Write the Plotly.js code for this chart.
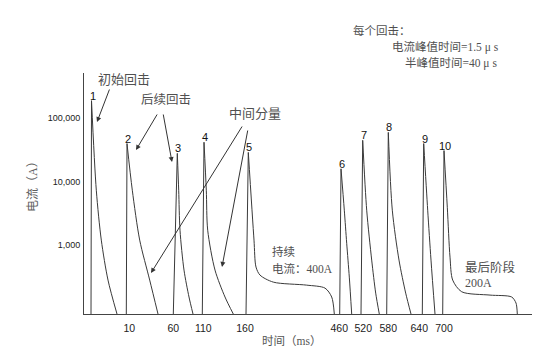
<!DOCTYPE html>
<html><head><meta charset="utf-8">
<script src="https://cdn.plot.ly/plotly-3.0.1.min.js"></script>
<style>html,body{margin:0;padding:0;background:#fff}#chart{width:553px;height:351px}</style>
</head><body><div id="chart"></div>
<script>
// ---- data (schematic time position along the drawn axis, current in A) ----
const BASE = 82;                       // current at the baseline of the sketch
const strokeNo = ['1','2','3','4','5','6','7','8','9','10'];
const riseStartPos = [7, 42.3, 89.3, 118.3, 162, 255.7, 277, 302.7, 338.3, 358.7];
const peakPos      = [7.5, 43, 93.3, 120, 164.3, 257, 278.7, 304.3, 339.7, 360];
const peakAmp      = [190000, 40000, 28000, 42000, 29000, 16000, 45000, 60000, 40000, 31000];
const tailPos = [
  [12.3, 17.3, 24, 33],
  [48.3, 55.7, 65.7, 74],
  [94.7, 96, 100, 105, 109],
  [122.3, 123.7, 131, 141, 149.3],
  [170, 172, 176, 189.3, 222.7, 241, 247.7, 250.3],
  [260.3, 262.7, 265.3, 267.7],
  [282.7, 287.7, 291.7, 295.3],
  [308.3, 315, 321.7, 327],
  [343.7, 347, 351],
  [363.3, 366, 368.7, 377.7, 406, 427.7, 432, 433.3]
];
const tailAmp = [
  [7350, 1200, 281, 82],
  [7350, 1200, 281, 82],
  [7350, 1720, 404, 152, 82],
  [7350, 1720, 404, 152, 82],
  [1200, 451, 337, 261, 234, 210, 152, 82],
  [3560, 1070, 313, 82],
  [3560, 581, 175, 82],
  [3560, 581, 175, 82],
  [3560, 581, 82],
  [3960, 647, 281, 184, 163, 152, 122, 82]
];
const timeLabels   = ['10','60','110','160','460','520','580','640','700'];
const timeLabelPos = [45.3, 89.3, 119.3, 161, 255.3, 279.3, 304.3, 335.3, 360];
const ampTickVals  = [1000, 10000, 100000];
const ampTickText  = ['1,000', '10,000', '100,000'];

// ---- layout helpers ----
const W = 553, H = 351, ML = 84, MR = 21, MT = 73, MB = 37;
const PW = W - ML - MR, PH = H - MT - MB;
const px = x => (x - ML) / PW;
const py = y => (H - MB - y) / PH;
const LINE = '#3a3a3a';
const TXT = '#505050';
const CJK = 'Noto Sans CJK SC';
const MIX = 'Liberation Serif, Noto Sans CJK SC';

// ---- traces ----
const riseX = [], riseY = [];
for (let i = 0; i < peakPos.length; i++) {
  riseX.push(riseStartPos[i], peakPos[i], null);
  riseY.push(BASE, peakAmp[i], null);
}
const traces = [{
  x: riseX, y: riseY, mode: 'lines', type: 'scatter',
  line: {color: LINE, width: 1}, hoverinfo: 'skip', showlegend: false
}];
for (let i = 0; i < peakPos.length; i++) {
  traces.push({
    x: [peakPos[i]].concat(tailPos[i]),
    y: [peakAmp[i]].concat(tailAmp[i]),
    mode: 'lines', type: 'scatter',
    line: {color: LINE, width: 1, shape: 'spline', smoothing: 0.8},
    hoverinfo: 'skip', showlegend: false
  });
}

// ---- annotations ----
const ann = [];
for (let i = 0; i < peakPos.length; i++) {
  ann.push({x: peakPos[i], y: Math.log10(peakAmp[i]), xref: 'x', yref: 'y',
    text: strokeNo[i], showarrow: false, yanchor: 'bottom', xanchor: 'center',
    yshift: -3, xshift: 1, font: {family: 'Liberation Sans', size: 11, color: '#111111'}});
}
const labels = [
  {t: '初始回击', x: 97, y: 78, s: 13, f: CJK},
  {t: '后续回击', x: 140, y: 98, s: 12.5, f: CJK},
  {t: '中间分量', x: 228, y: 112, s: 13, f: CJK},
  {t: '每个回击：', x: 352, y: 30, s: 11.5, f: CJK},
  {t: '电流峰值时间=1.5 μ s', x: 391, y: 47.5, s: 11.5, f: MIX},
  {t: '半峰值时间=40 μ s', x: 404, y: 63.5, s: 11.5, f: MIX},
  {t: '持续', x: 271, y: 251, s: 11.5, f: CJK},
  {t: '电流：400A', x: 271, y: 268.5, s: 11.5, f: MIX},
  {t: '最后阶段', x: 464, y: 266.5, s: 12.5, f: CJK},
  {t: '200A', x: 464, y: 282.5, s: 12, f: MIX}
];
labels.forEach(o => ann.push({x: px(o.x), y: py(o.y), xref: 'paper', yref: 'paper',
  text: o.t, showarrow: false, xanchor: 'left', yanchor: 'middle', borderpad: 0,
  font: {family: o.f, size: o.s, color: TXT}}));
// axis titles
ann.push({x: px(291), y: py(341), xref: 'paper', yref: 'paper', text: '时间（ms）',
  showarrow: false, xanchor: 'center', yanchor: 'middle',
  font: {family: MIX, size: 11.5, color: '#555555'}});
ann.push({x: px(33), y: py(184), xref: 'paper', yref: 'paper', text: '电流（A）',
  showarrow: false, xanchor: 'center', yanchor: 'middle', textangle: -90,
  font: {family: MIX, size: 12, color: '#606060'}});
// arrows: [tailX, tailY, headX, headY]
const arrows = [
  [110, 88, 97, 122],
  [158, 113, 136, 150],
  [163, 113, 172, 162],
  [243, 125, 151, 273],
  [248, 129, 222, 267]
];
arrows.forEach(a => ann.push({x: px(a[2]), y: py(a[3]), xref: 'paper', yref: 'paper',
  ax: a[0] - a[2], ay: a[1] - a[3], axref: 'pixel', ayref: 'pixel', text: '',
  showarrow: true, arrowhead: 2, arrowsize: 1, arrowwidth: 1, arrowcolor: '#333333', standoff: 0}));

const layout = {
  width: W, height: H,
  margin: {l: ML, r: MR, t: MT, b: MB, pad: 0},
  paper_bgcolor: '#ffffff', plot_bgcolor: '#ffffff', showlegend: false,
  xaxis: {range: [0, PW], showline: true, linecolor: '#444444', linewidth: 1,
    showgrid: false, zeroline: false, ticks: '', tickmode: 'array',
    tickvals: timeLabelPos, ticktext: timeLabels, ticklabelstandoff: 4,
    tickfont: {family: 'Liberation Sans', size: 10.5, color: '#222222'}, fixedrange: true},
  yaxis: {type: 'log', range: [Math.log10(BASE), 5.715], showline: true, linecolor: '#444444',
    linewidth: 1, showgrid: false, zeroline: false, ticks: '', tickmode: 'array',
    tickvals: ampTickVals, ticktext: ampTickText, ticklabelstandoff: 1,
    tickfont: {family: 'Liberation Sans', size: 9, color: '#222222'},
    fixedrange: true},
  annotations: ann
};
Plotly.newPlot('chart', traces, layout, {displayModeBar: false, staticPlot: true});
</script></body></html>
